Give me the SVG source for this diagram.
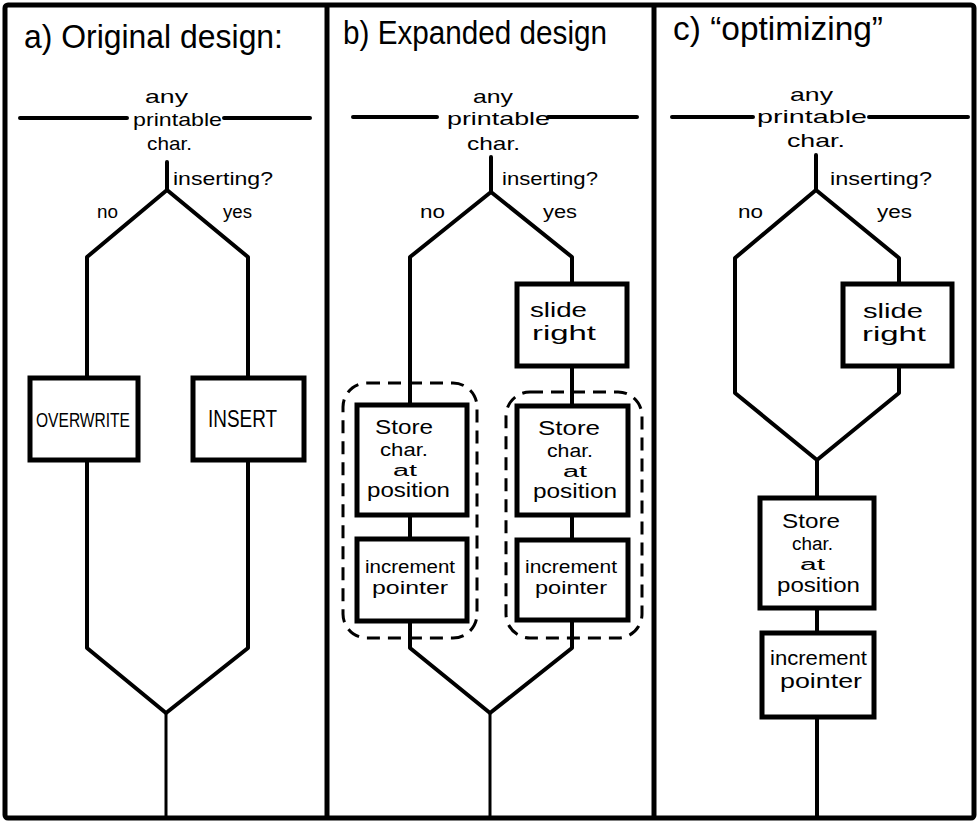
<svg xmlns="http://www.w3.org/2000/svg" width="979" height="821" viewBox="0 0 979 821">
<style>
.t{font-family:"Liberation Sans",Arial,sans-serif;fill:#000}
.title{font-size:33px}
.s{font-size:19px}
.b20{font-size:20px}
.b18{font-size:18px}
.b16{font-size:16px}
.lbl{font-size:18px}
.box{fill:#fff;stroke:#000;stroke-width:5}
.dash{fill:none;stroke:#000;stroke-width:3;stroke-dasharray:13 8}
.ln{fill:none;stroke:#000;stroke-width:4;stroke-linejoin:round;stroke-linecap:round}
.thin{fill:none;stroke:#000;stroke-width:3;stroke-linejoin:round}
.frame{fill:none;stroke:#000;stroke-width:5}
</style>
<rect width="979" height="821" fill="#fff"/>
<g id="frame">
<rect class="frame" x="5" y="5" width="969" height="813" rx="3"/>
<line class="frame" x1="327" y1="5" x2="327" y2="818"/>
<line class="frame" x1="654" y1="5" x2="654" y2="818"/>
</g>
<g id="titles">
<text class="t title" x="24" y="48" textLength="259" lengthAdjust="spacingAndGlyphs">a) Original design:</text>
<text class="t title" x="343" y="44" textLength="264" lengthAdjust="spacingAndGlyphs">b) Expanded design</text>
<text class="t title" x="673" y="40" textLength="210" lengthAdjust="spacingAndGlyphs">c) “optimizing”</text>
</g>
<g id="connectors">
<!-- panel a -->
<path class="ln" d="M20,118 H127 M224,118 H310"/>
<path class="ln" d="M167,162 V190 M167,190 L87,257 V378 M167,190 L248,257 V378"/>
<path class="ln" d="M87,460 V648 L166,713 M248,460 V648 L166,713"/>
<path class="thin" d="M166,713 V818"/>
<!-- panel b -->
<path class="ln" d="M353,117 H437 M548,117 H637"/>
<path class="ln" d="M491,157 V192 M491,192 L410,257 V405 M491,192 L572,257 V284 M572,366 V406"/>
<path class="ln" d="M410,515 V539 M572,515 V540"/>
<path class="ln" d="M410,621 V648 L490,713 M572,620 V648 L490,713"/>
<path class="thin" d="M490,713 V818"/>
<!-- panel c -->
<path class="ln" d="M672,117 H753 M869,117 H968"/>
<path class="ln" d="M816,155 V190 M816,190 L735,258 V393 L817,460 M816,190 L899,258 V284 M899,366 V393 L817,460 M817,460 V498"/>
<path class="ln" d="M817,608 V633"/>
<path class="ln" d="M817,717 V818"/>
</g>
<g id="labels">
<text class="t s" x="145" y="103" textLength="43" lengthAdjust="spacingAndGlyphs">any</text>
<text class="t s" x="133" y="126" textLength="89" lengthAdjust="spacingAndGlyphs">printable</text>
<text class="t s" x="147" y="150" textLength="45" lengthAdjust="spacingAndGlyphs">char.</text>
<text class="t s" x="173" y="185" textLength="100" lengthAdjust="spacingAndGlyphs">inserting?</text>
<text class="t lbl" x="97" y="218" textLength="21" lengthAdjust="spacingAndGlyphs">no</text>
<text class="t lbl" x="223" y="218" textLength="29" lengthAdjust="spacingAndGlyphs">yes</text>

<text class="t s" x="473" y="103" textLength="40" lengthAdjust="spacingAndGlyphs">any</text>
<text class="t s" x="447" y="125" textLength="103" lengthAdjust="spacingAndGlyphs">printable</text>
<text class="t s" x="467" y="150" textLength="53" lengthAdjust="spacingAndGlyphs">char.</text>
<text class="t s" x="502" y="185" textLength="96" lengthAdjust="spacingAndGlyphs">inserting?</text>
<text class="t lbl" x="420" y="218" textLength="25" lengthAdjust="spacingAndGlyphs">no</text>
<text class="t lbl" x="543" y="218" textLength="34" lengthAdjust="spacingAndGlyphs">yes</text>

<text class="t s" x="790" y="101" textLength="43" lengthAdjust="spacingAndGlyphs">any</text>
<text class="t s" x="757" y="123" textLength="110" lengthAdjust="spacingAndGlyphs">printable</text>
<text class="t s" x="787" y="147" textLength="58" lengthAdjust="spacingAndGlyphs">char.</text>
<text class="t s" x="830" y="185" textLength="102" lengthAdjust="spacingAndGlyphs">inserting?</text>
<text class="t lbl" x="738" y="218" textLength="25" lengthAdjust="spacingAndGlyphs">no</text>
<text class="t lbl" x="877" y="218" textLength="35" lengthAdjust="spacingAndGlyphs">yes</text>
</g>
<g id="a-overwrite">
<rect class="box" x="30" y="378" width="108" height="82"/>
<text class="t" style="font-size:21px" x="36" y="427" textLength="94" lengthAdjust="spacingAndGlyphs">OVERWRITE</text>
</g>
<g id="a-insert">
<rect class="box" x="193" y="378" width="111" height="82"/>
<text class="t" style="font-size:23px" x="208" y="427" textLength="69" lengthAdjust="spacingAndGlyphs">INSERT</text>
</g>
<g id="b-slide-right">
<rect class="box" x="517" y="284" width="110" height="82"/>
<text class="t b20" x="530" y="317" textLength="57" lengthAdjust="spacingAndGlyphs">slide</text>
<text class="t b20" x="532" y="340" textLength="64" lengthAdjust="spacingAndGlyphs">right</text>
</g>
<g id="b-group-left">
<rect class="dash" x="343" y="383" width="134" height="255" rx="24"/>
</g>
<g id="b-group-right">
<rect class="dash" x="506" y="392" width="136" height="246" rx="24"/>
</g>
<g id="b-store-left">
<rect class="box" x="357" y="405" width="110" height="110"/>
<text class="t b20" x="375" y="434" textLength="58" lengthAdjust="spacingAndGlyphs">Store</text>
<text class="t b18" x="380" y="456" textLength="48" lengthAdjust="spacingAndGlyphs">char.</text>
<text class="t b16" x="393" y="476" textLength="24" lengthAdjust="spacingAndGlyphs">at</text>
<text class="t b20" x="367" y="497" textLength="83" lengthAdjust="spacingAndGlyphs">position</text>
</g>
<g id="b-increment-left">
<rect class="box" x="357" y="539" width="110" height="82"/>
<text class="t b18" x="365" y="573" textLength="90" lengthAdjust="spacingAndGlyphs">increment</text>
<text class="t b18" x="372" y="594" textLength="76" lengthAdjust="spacingAndGlyphs">pointer</text>
</g>
<g id="b-store-right">
<rect class="box" x="517" y="406" width="111" height="109"/>
<text class="t b20" x="538" y="435" textLength="62" lengthAdjust="spacingAndGlyphs">Store</text>
<text class="t b18" x="547" y="457" textLength="46" lengthAdjust="spacingAndGlyphs">char.</text>
<text class="t b16" x="563" y="477" textLength="24" lengthAdjust="spacingAndGlyphs">at</text>
<text class="t b20" x="533" y="498" textLength="84" lengthAdjust="spacingAndGlyphs">position</text>
</g>
<g id="b-increment-right">
<rect class="box" x="517" y="540" width="111" height="80"/>
<text class="t b18" x="525" y="573" textLength="92" lengthAdjust="spacingAndGlyphs">increment</text>
<text class="t b18" x="535" y="594" textLength="72" lengthAdjust="spacingAndGlyphs">pointer</text>
</g>
<g id="c-slide-right">
<rect class="box" x="843" y="284" width="109" height="82"/>
<text class="t b20" x="863" y="318" textLength="60" lengthAdjust="spacingAndGlyphs">slide</text>
<text class="t b20" x="862" y="341" textLength="64" lengthAdjust="spacingAndGlyphs">right</text>
</g>
<g id="c-store">
<rect class="box" x="760" y="498" width="114" height="110"/>
<text class="t b20" x="782" y="528" textLength="58" lengthAdjust="spacingAndGlyphs">Store</text>
<text class="t b18" x="792" y="550" textLength="41" lengthAdjust="spacingAndGlyphs">char.</text>
<text class="t b16" x="800" y="570" textLength="25" lengthAdjust="spacingAndGlyphs">at</text>
<text class="t b20" x="777" y="592" textLength="83" lengthAdjust="spacingAndGlyphs">position</text>
</g>
<g id="c-increment">
<rect class="box" x="762" y="633" width="112" height="84"/>
<text class="t b20" x="770" y="665" textLength="97" lengthAdjust="spacingAndGlyphs">increment</text>
<text class="t b20" x="780" y="688" textLength="82" lengthAdjust="spacingAndGlyphs">pointer</text>
</g>
</svg>
